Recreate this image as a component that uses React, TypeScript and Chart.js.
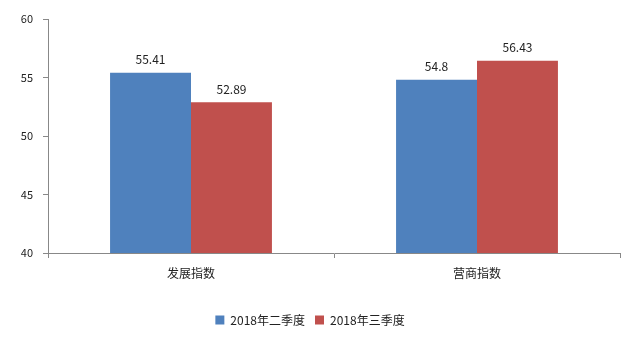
import React, { useEffect, useRef } from "react";
import { Chart, registerables } from "chart.js";

Chart.register(...registerables);

const categories = ["发展指数", "营商指数"];
const seriesNames = ["2018年二季度", "2018年三季度"];
const q2Values = [55.41, 54.8];
const q3Values = [52.89, 56.43];
const seriesColors = ["#4F81BD", "#C0504D"];

const FONT = "'Noto Sans CJK SC', 'DejaVu Sans', sans-serif";

const valueLabels = {
  id: "valueLabels",
  afterDatasetsDraw(chart: any) {
    const ctx = chart.ctx;
    ctx.save();
    ctx.font = `12px ${FONT}`;
    ctx.fillStyle = "#222";
    ctx.textAlign = "center";
    ctx.textBaseline = "bottom";
    chart.data.datasets.forEach((ds: any, di: number) => {
      const meta = chart.getDatasetMeta(di);
      meta.data.forEach((bar: any, i: number) => {
        ctx.fillText(String(ds.data[i]), bar.x, bar.y - 7);
      });
    });
    ctx.restore();
  },
};

export default function App() {
  const ref = useRef<HTMLCanvasElement>(null);
  useEffect(() => {
    const chart = new Chart(ref.current!, {
      type: "bar",
      data: {
        labels: categories,
        datasets: [
          { label: seriesNames[0], data: q2Values, backgroundColor: seriesColors[0] },
          { label: seriesNames[1], data: q3Values, backgroundColor: seriesColors[1] },
        ],
      },
      plugins: [valueLabels],
      options: {
        animation: false,
        responsive: false,
        layout: { padding: { top: 19, right: 20, left: 0, bottom: 11 } },
        datasets: { bar: { categoryPercentage: 0.566, barPercentage: 1.0 } },
        plugins: {
          legend: {
            position: "bottom",
            labels: {
              boxWidth: 9,
              boxHeight: 9,
              padding: 10,
              color: "#222",
              font: { family: FONT, size: 12 },
            },
          },
          tooltip: { enabled: false },
        },
        scales: {
          x: {
            grid: { display: true, drawOnChartArea: false, tickLength: 5, color: "#888" },
            border: { color: "#888" },
            ticks: { color: "#222", font: { family: FONT, size: 12 }, padding: 8 },
            afterFit(scale: any) {
              scale.height = 51;
            },
          },
          y: {
            min: 40,
            max: 60,
            grid: { display: true, drawOnChartArea: false, tickLength: 5, color: "#888" },
            border: { color: "#888" },
            ticks: { stepSize: 5, color: "#222", font: { family: FONT, size: 11 }, padding: 10 },
            afterFit(scale: any) {
              scale.width = 48;
            },
          },
        },
      },
    });
    return () => chart.destroy();
  }, []);
  return (
    <div style={{ position: "fixed", left: 0, top: 0, width: 640, height: 347, background: "#fff" }}>
      <canvas ref={ref} width={640} height={347} />
    </div>
  );
}
